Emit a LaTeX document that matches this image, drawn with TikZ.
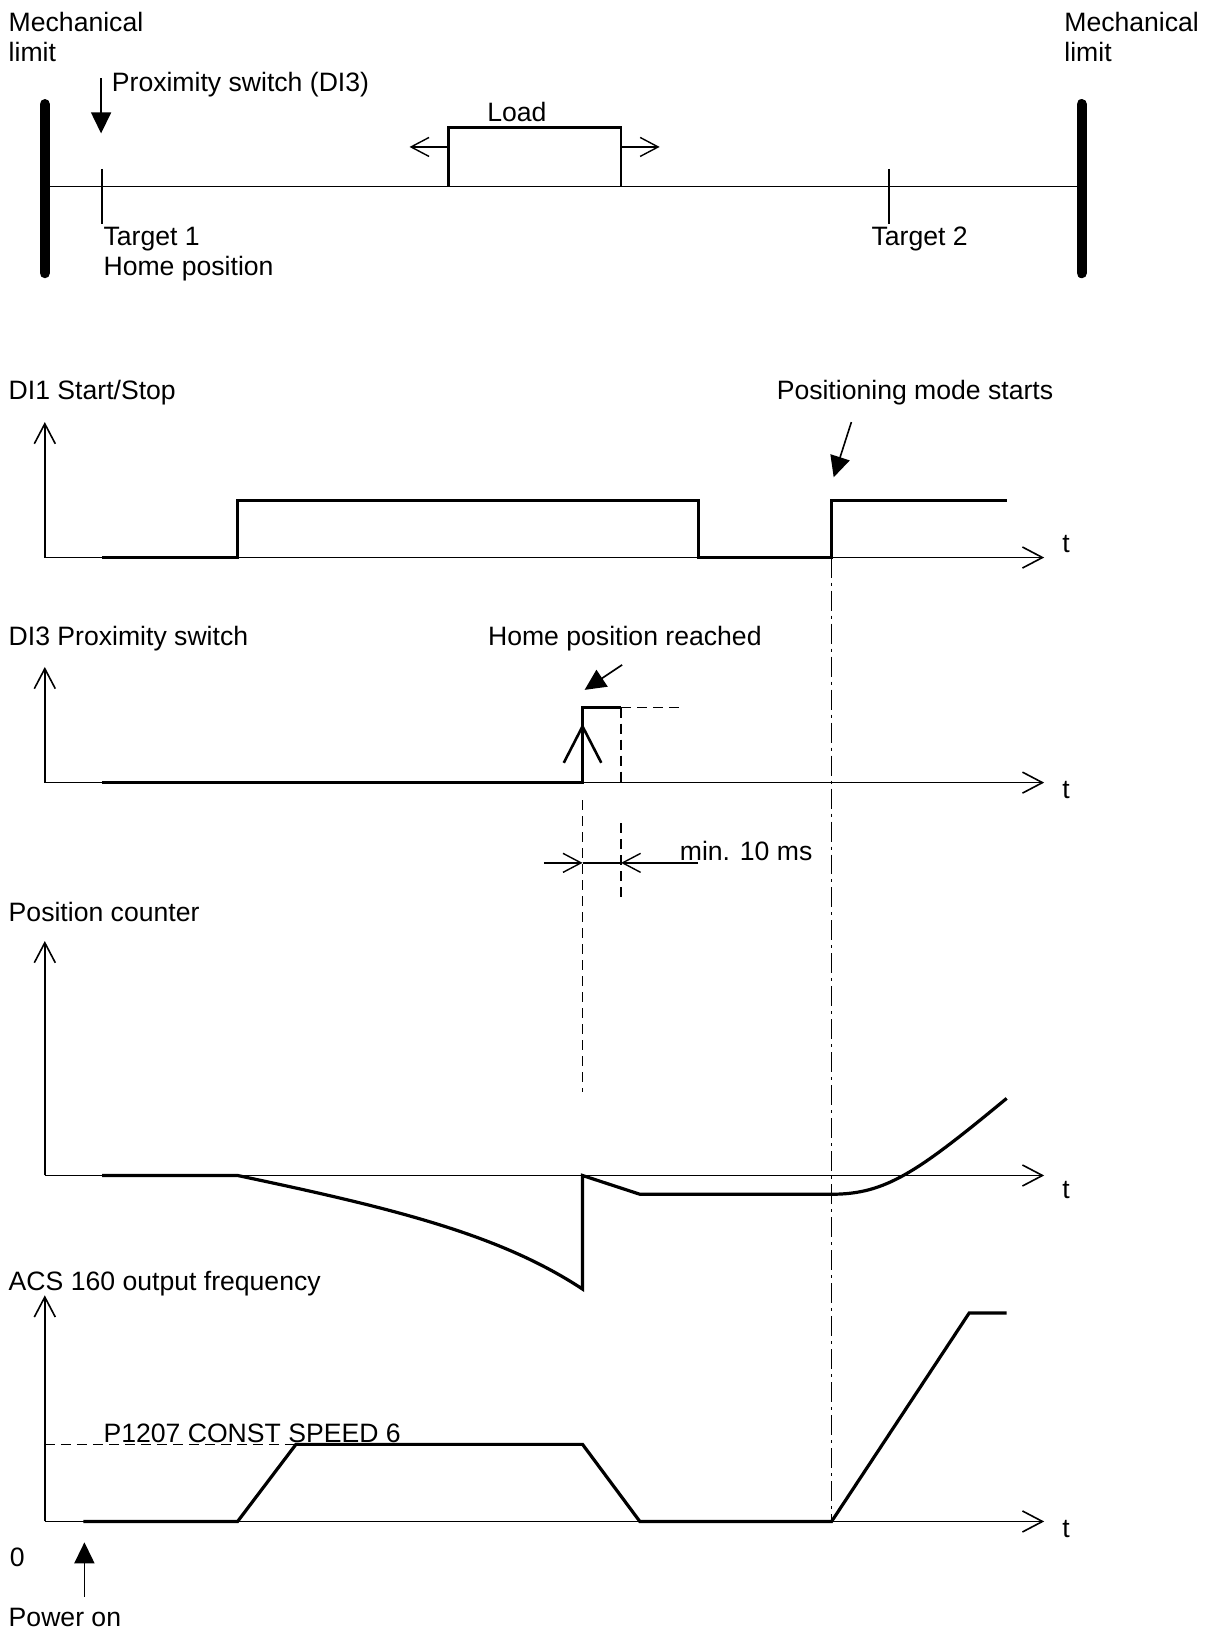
\documentclass[tikz,border=0pt]{standalone}
\usepackage{fontspec}
\setmainfont{Liberation Sans}
\usetikzlibrary{arrows.meta}

\begin{document}
\begin{tikzpicture}[
  x=0.5211pt,y=-0.5211pt,font=\fontsize{13.3}{15}\selectfont,
  lbl/.style={inner sep=0pt,anchor=base west},
  lbltwo/.style={inner sep=0pt,anchor=north west,align=left},
  axis/.style={line width=.8pt,-{Straight Barb[length=10pt,width=10.5pt]}},
  sig/.style={line width=1.6pt,line join=miter},
  thin/.style={line width=.7pt},
  dashln/.style={line width=.7pt,dash pattern=on 5pt off 3pt},
  dashdot/.style={line width=.7pt,dash pattern=on 10pt off 2.5pt on 1.5pt off 2.5pt},
  stopbar/.style={line width=5.2pt,line cap=round},
  pointer/.style={line width=.8pt,-{Triangle[length=10.5pt,width=10pt]}},
  openhead/.style={thin,-{Straight Barb[length=9pt,width=9.5pt]}}
]
\useasboundingbox (0,0) rectangle (1162,1568);

% Track with the two mechanical limits.
\draw[thin] (43,179) -- (1038,179);
\draw[stopbar] (43,100) -- (43,262);
\draw[stopbar] (1038,100) -- (1038,262);
\node[lbltwo] (limL) at (8,11) {Mechanical\\limit};
\node[lbltwo] (limR) at (1021,11) {Mechanical\\limit};

\draw[thin] (98,162) -- (98,215);
\draw[thin] (853,162) -- (853,215);
\node[lbltwo] (tgt1) at (99,218) {Target 1\\Home position};
\node[lbl] (tgt2) at (836,236) {Target 2};

\coordinate (proxTop) at (97,75);
\coordinate (proxTip) at (97,128);
\draw[pointer] (proxTop) -- (proxTip);
\node[lbl] (prox) at (107,88) {Proximity switch (DI3)};

% Load moving both ways.
\draw[sig,line width=1.4pt] (430,179) -- (430,122) -- (596,122) -- (596,179);
\node[inner sep=0pt,anchor=base] (load) at (496,117) {Load};
\draw[openhead] (430,141) -- (393,141);
\draw[openhead] (596,141) -- (633,141);

% Axes of the four time plots.
\foreach \name/\yb/\yt/\ty in {di1/535/405/530, di3/751/640/766, pos/1128/903/1150, frq/1460/1243/1475} {
  \draw[axis] (43,\yb) -- (43,\yt);
  \draw[axis] (43,\yb) -- (1002,\yb);
  \node[lbl] (t\name) at (1019,\ty) {t};
}

% DI1 Start/Stop.
\node[lbl] (di1) at (8,383) {DI1 Start/Stop};
\node[lbl] (posmode) at (745,383) {Positioning mode starts};
\draw[sig] (98,535) -- (228,535) -- (228,480) -- (670,480) -- (670,535)
  -- (798,535) -- (798,480) -- (966,480);
\coordinate (pmTail) at (817,405);
\coordinate (pmTip) at (800,458);
\draw[pointer] (pmTail) -- (pmTip);

% DI3 Proximity switch.
\node[lbl] (di3) at (8,619) {DI3 Proximity switch};
\node[lbl] (homereach) at (468,619) {Home position reached};
\draw[sig] (98,751) -- (559,751) -- (559,679) -- (596,679);
\draw[dashln] (596,679) -- (652,679);
\draw[dashln] (596,679) -- (596,751);
\draw[sig,line width=1.3pt] (541,732) -- (559,697) -- (577,732);
\coordinate (hrTail) at (597,638);
\coordinate (hrTip) at (561,662);
\draw[pointer] (hrTail) -- (hrTip);

% Minimum pulse length.
\draw[dashln] (559,768) -- (559,1048);
\draw[dashln] (596,790) -- (596,862);
\draw[thin] (559,828) -- (596,828);
\draw[openhead] (522,828) -- (559,828);
\draw[openhead] (670,828) -- (596,828);
\node[lbl] (minms) at (652,826) {min. 10 ms};

% Position counter.
\node[lbl] (poscnt) at (8,884) {Position counter};
\draw[sig] (98,1128) -- (228,1128) .. controls (380,1160) and (480,1185) .. (559,1237)
  -- (559,1128) -- (614,1146) -- (798,1146)
  .. controls (850,1146) and (880,1125) .. (966,1054);

% Output frequency.
\node[lbl] (acs) at (8,1238) {ACS 160 output frequency};
\draw[dashln] (43,1386) -- (284,1386);
\node[lbl] (cspeed) at (99,1384) {P1207 CONST SPEED 6};
\draw[sig] (80,1460) -- (228,1460) -- (284,1386) -- (559,1386) -- (614,1460)
  -- (798,1460) -- (930,1260) -- (966,1260);
\node[lbl] (zero) at (9,1503) {0};
\coordinate (pwTail) at (81,1532);
\coordinate (pwTip) at (81,1480);
\draw[pointer] (pwTail) -- (pwTip);
\node[lbl] (pwron) at (8,1561) {Power on};

% Start of positioning mode across all plots.
\draw[dashdot] (798,535) -- (798,1460);

\end{tikzpicture}
\end{document}
